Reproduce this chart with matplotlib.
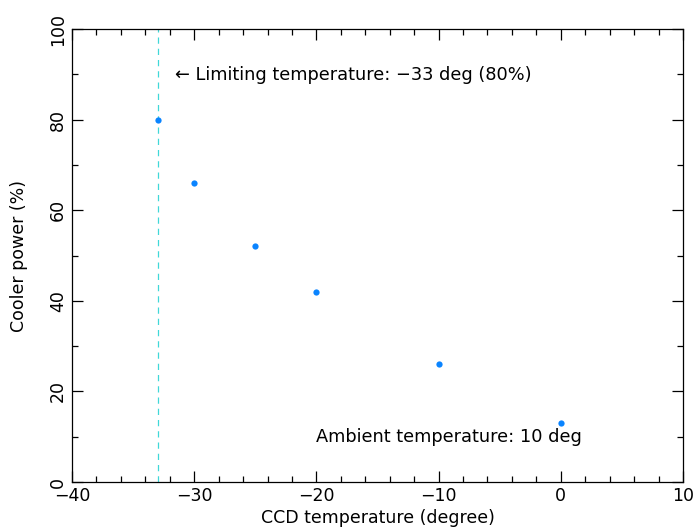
import matplotlib
matplotlib.use("Agg")
import matplotlib.pyplot as plt
from matplotlib.ticker import MultipleLocator

# CCD temperature (deg) vs cooler power (%)
ccd_temp = [-33, -30, -25, -20, -10, 0]
cooler_power = [80, 66, 52, 42, 26, 13]
limit_temp = -33

plt.rcParams['font.family'] = ['DejaVu Sans']
fig = plt.figure(figsize=(6.94, 5.28), dpi=100)
ax = fig.add_axes([72 / 694, 46 / 528, 611 / 694, 453 / 528])

ax.axvline(limit_temp, color="#40d8d8", lw=0.9, ls=(0, (5, 4)))
ax.plot(ccd_temp, cooler_power, "o", color="#0a84ff", ms=4.5, mec="none")

ax.text(-31.6, 89.8, "\u2190 Limiting temperature: \u221233 deg (80%)",
        fontsize=12.8, va="center", ha="left")
ax.text(-20.0, 9.9, "Ambient temperature: 10 deg",
        fontsize=12.8, va="center", ha="left")

ax.set_xlim(-40, 10)
ax.set_ylim(0, 100)
ax.xaxis.set_minor_locator(MultipleLocator(2))
ax.yaxis.set_minor_locator(MultipleLocator(10))
ax.tick_params(which="both", direction="in", top=True, right=True,
               labelsize=12.5, width=0.9)
ax.tick_params(which="major", length=8)
ax.tick_params(which="minor", length=4)
ax.set_xticks(range(-40, 11, 10))
ax.set_xticklabels(["\u221240", "\u221230", "\u221220", "\u221210", "0", "10"])
ax.set_yticks(range(0, 101, 20))
ax.set_yticklabels([str(v) for v in range(0, 101, 20)], rotation=90, va="center")
for s in ax.spines.values():
    s.set_linewidth(0.9)

ax.set_xlabel("CCD temperature (degree)", fontsize=12.5, labelpad=3)
ax.set_ylabel("Cooler power (%)", fontsize=12.5, labelpad=15)

fig.savefig("out.png", dpi=100)
